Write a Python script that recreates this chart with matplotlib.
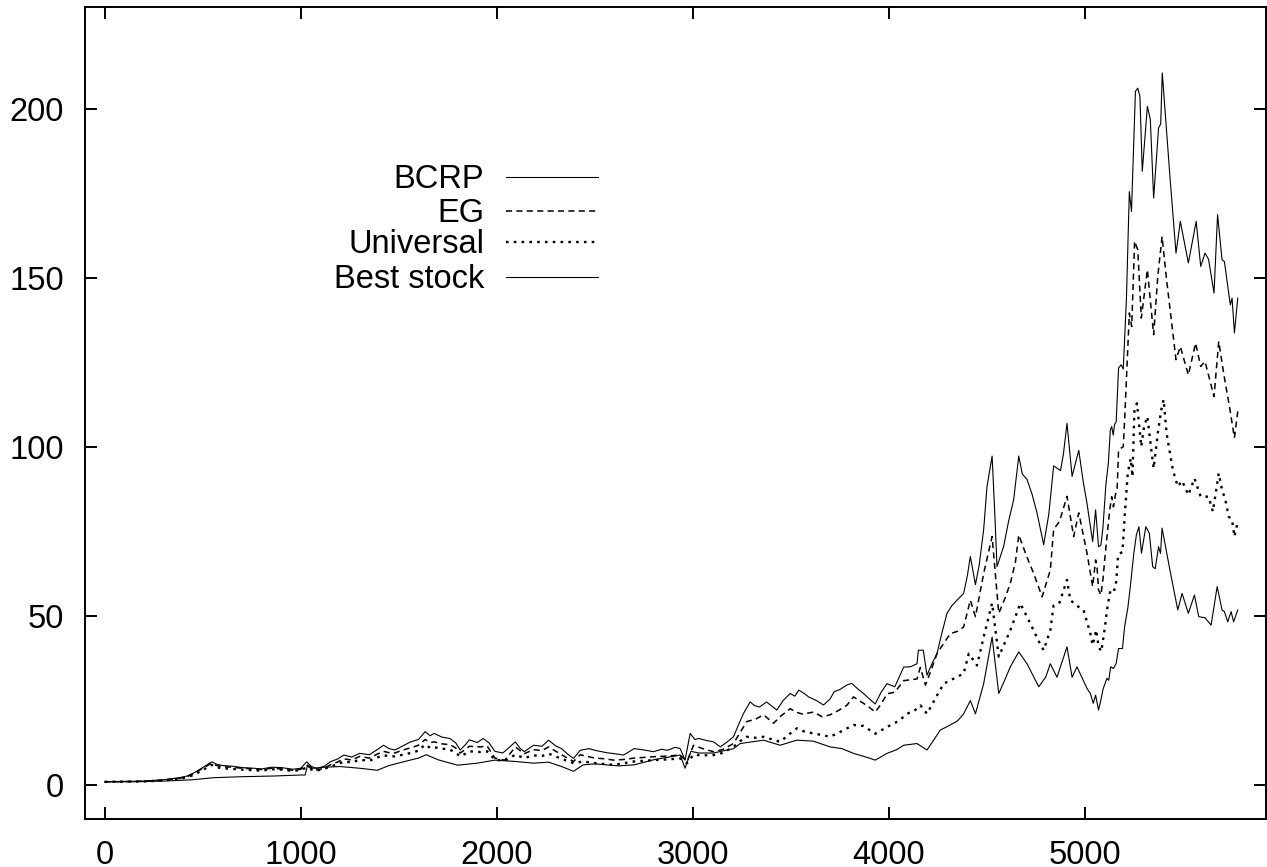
import matplotlib
matplotlib.use('Agg')
import matplotlib.pyplot as plt
from matplotlib.lines import Line2D

plt.rcParams['font.family'] = ['Liberation Sans', 'DejaVu Sans']

# wealth curves, (day, value)
bcrp_x = [0, 100, 200, 300, 380, 420, 460, 500, 546, 570, 600, 650, 700, 760, 800, 850, 900, 960, 1000, 1030,
          1055, 1080, 1120, 1150, 1190, 1219, 1260, 1300, 1350, 1390, 1422, 1450, 1480, 1520, 1560, 1600, 1634,
          1660, 1680, 1720, 1760, 1790, 1813, 1840, 1860, 1900, 1930, 1960, 1990, 2030, 2060, 2094, 2120, 2140,
          2187, 2230, 2264, 2300, 2330, 2360, 2391, 2425, 2470, 2500, 2560, 2600, 2646, 2700, 2750, 2799, 2840,
          2870, 2910, 2935, 2960, 2986, 3010, 3030, 3070, 3105, 3140, 3175, 3207, 3230, 3258, 3292, 3315, 3340,
          3375, 3400, 3428, 3460, 3496, 3520, 3540, 3570, 3590, 3630, 3666, 3700, 3720, 3750, 3785, 3810, 3840,
          3870, 3900, 3930, 3960, 3990, 4030, 4075, 4110, 4143, 4150, 4175, 4194, 4220, 4245, 4270, 4296, 4320,
          4347, 4381, 4400, 4415, 4441, 4460, 4483, 4500, 4526, 4540, 4551, 4585, 4610, 4636, 4662, 4680, 4704,
          4730, 4755, 4789, 4815, 4840, 4875, 4890, 4908, 4934, 4968, 4990, 5010, 5039, 5054, 5069, 5081,
          5091, 5107, 5119, 5129, 5136, 5144, 5150, 5159, 5164, 5171, 5184, 5195, 5211, 5226, 5237, 5257, 5269,
          5280, 5292, 5318, 5333, 5350, 5375, 5386, 5394, 5433, 5464, 5486, 5527, 5567, 5590, 5612, 5630, 5658,
          5676, 5699, 5711, 5741, 5750, 5762, 5779]
bcrp_y = [1.0, 1.1, 1.2, 1.6, 2.2, 2.7, 3.8, 5.2, 6.9, 6.2, 5.8, 5.6, 5.2, 5.0, 4.8, 5.3, 5.2, 4.7, 5.0, 6.9,
          5.5, 4.9, 5.6, 6.9, 7.8, 8.9, 8.3, 9.4, 9.0, 10.5, 11.8, 10.8, 10.4, 11.6, 12.8, 13.5, 15.8,
          14.6, 15.3, 14.2, 13.8, 12.5, 10.4, 12.0, 13.4, 12.6, 13.8, 12.5, 10.0, 9.5, 11.0, 12.8, 10.8, 9.9,
          11.8, 11.5, 13.3, 11.6, 10.8, 9.2, 7.9, 10.3, 10.8, 10.3, 9.6, 9.3, 8.9, 10.8, 10.4, 9.9, 10.6,
          10.3, 11.2, 10.8, 7.4, 15.3, 13.5, 13.8, 13.2, 12.8, 11.3, 12.8, 14.3, 17.5, 21.2, 24.6, 23.5, 23.1,
          24.6, 23.5, 22.2, 25.0, 27.1, 26.3, 28.1, 27.0, 26.1, 25.0, 23.7, 25.5, 27.6, 28.3, 29.6, 30.1, 28.5,
          27.1, 25.5, 24.0, 27.5, 30.0, 29.1, 34.9, 35.0, 35.9, 39.9, 39.9, 32.5, 36.0, 38.9, 45.0, 50.8, 53.0,
          54.7, 56.7, 62.0, 67.6, 59.3, 65.0, 75.6, 88.3, 97.3, 80.0, 64.6, 70.6, 78.0, 84.4, 97.3, 92.0, 90.4,
          86.0, 80.5, 71.1, 80.0, 94.4, 93.0, 98.0, 107.0, 91.3, 99.0, 90.0, 83.3, 72.0, 81.4, 70.5, 71.0,
          75.9, 89.3, 95.2, 105.0, 106.0, 103.5, 106.5, 107.5, 113.9, 123.3, 124.3, 123.0, 143.5, 175.5, 169.6, 205.1, 206.1,
          203.7, 181.5, 200.7, 196.8, 173.6, 194.3, 195.5, 210.6, 180.0, 157.3, 166.7, 154.4, 166.7, 153.4, 157.3, 155.5, 145.5,
          168.7, 155.3, 154.8, 142.0, 144.0, 133.7, 144.0]

eg_x = [0, 100, 200, 300, 380, 420, 460, 500, 546, 570, 600, 650, 700, 760, 800, 850, 900, 960, 1000, 1030,
        1055, 1080, 1120, 1150, 1190, 1219, 1260, 1300, 1350, 1390, 1422, 1450, 1480, 1520, 1560, 1600, 1634,
        1660, 1680, 1720, 1760, 1790, 1813, 1840, 1860, 1915, 1950, 1990, 2040, 2070, 2094, 2140, 2187, 2230,
        2264, 2330, 2360, 2391, 2425, 2460, 2500, 2550, 2595, 2650, 2700, 2750, 2799, 2870, 2935, 2970, 3003,
        3050, 3105, 3150, 3207, 3240, 3275, 3320, 3360, 3411, 3450, 3496, 3530, 3560, 3615, 3660, 3700, 3740,
        3785, 3819, 3870, 3900, 3930, 3960, 3990, 4030, 4075, 4143, 4160, 4186, 4215, 4245, 4280, 4313, 4350,
        4381, 4415, 4441, 4483, 4526, 4560, 4590, 4619, 4645, 4662, 4700, 4738, 4781, 4823, 4840, 4870, 4908,
        4942, 4968, 5010, 5039, 5054, 5061, 5069, 5081, 5091, 5102, 5112, 5126, 5136, 5145, 5155, 5164, 5171,
        5195, 5202, 5226, 5238, 5253, 5269, 5287, 5318, 5350, 5371, 5393, 5416, 5464, 5486, 5527, 5564, 5590,
        5612, 5658, 5682, 5707, 5738, 5762, 5779]
eg_y = [1.0, 1.05, 1.15, 1.5, 2.0, 2.5, 3.6, 5.0, 6.5, 5.8, 5.5, 5.3, 5.0, 4.8, 4.6, 5.0, 4.8, 4.4, 4.7, 5.8,
        4.9, 4.5, 5.0, 6.0, 6.9, 7.8, 7.4, 8.5, 8.0, 9.2, 10.0, 9.6, 9.5, 10.4, 11.0, 11.8, 13.5,
        12.6, 12.8, 12.2, 12.0, 11.0, 9.5, 10.6, 11.5, 11.3, 11.6, 8.0, 7.4, 9.5, 11.3, 9.3, 10.5, 10.2,
        11.3, 9.0, 8.0, 7.0, 9.0, 8.5, 8.0, 7.8, 7.4, 7.6, 8.0, 8.2, 8.4, 8.6, 8.9, 7.0, 11.8,
        10.8, 9.9, 10.5, 12.3, 15.5, 18.8, 19.5, 20.8, 18.3, 20.5, 22.6, 21.5, 21.0, 21.6, 20.2, 20.8, 22.0,
        23.6, 26.1, 24.2, 23.0, 21.6, 24.0, 27.0, 27.5, 30.9, 31.4, 34.8, 29.6, 34.0, 38.9, 42.0, 44.8, 45.5,
        46.8, 54.7, 49.8, 62.6, 73.5, 50.8, 55.0, 59.7, 66.0, 74.0, 68.0, 62.6, 55.7, 63.6, 75.6, 78.0, 85.4,
        73.5, 80.5, 68.6, 58.7, 66.6, 64.6, 57.7, 56.2, 60.7, 67.6, 73.5, 81.4, 85.3, 82.3, 85.8, 87.8, 99.1,
        100.1, 108.0, 139.6, 135.6, 160.8, 158.3, 138.1, 152.4, 133.2, 150.4, 162.2, 149.4, 125.8, 129.7, 121.3, 130.7, 123.8,
        125.3, 114.9, 131.2, 121.8, 111.5, 102.7, 110.5]

univ_x = [0, 100, 200, 300, 380, 420, 460, 500, 546, 570, 600, 650, 700, 760, 800, 850, 900, 960, 1000, 1030,
          1055, 1080, 1120, 1150, 1190, 1219, 1260, 1300, 1350, 1390, 1422, 1450, 1480, 1520, 1560, 1600, 1634,
          1660, 1680, 1720, 1760, 1790, 1813, 1840, 1860, 1915, 1950, 1990, 2040, 2094, 2140, 2187, 2230, 2264,
          2330, 2391, 2440, 2500, 2595, 2650, 2700, 2799, 2870, 2935, 2970, 3003, 3050, 3105, 3150, 3207, 3240,
          3275, 3320, 3360, 3400, 3445, 3490, 3530, 3570, 3615, 3660, 3700, 3760, 3819, 3870, 3930, 3960, 4000,
          4050, 4092, 4130, 4160, 4194, 4240, 4279, 4330, 4381, 4407, 4449, 4483, 4526, 4560, 4590, 4619, 4670,
          4721, 4760, 4789, 4823, 4840, 4870, 4908, 4925, 4960, 4993, 5027, 5039, 5057, 5069, 5083, 5093, 5102,
          5112, 5126, 5136, 5150, 5159, 5169, 5191, 5202, 5218, 5233, 5242, 5252, 5265, 5287, 5301, 5318, 5336,
          5350, 5371, 5389, 5401, 5416, 5448, 5473, 5495, 5527, 5558, 5590, 5630, 5652, 5682, 5699, 5716, 5733,
          5750, 5762, 5779]
univ_y = [1.0, 1.05, 1.1, 1.4, 1.9, 2.3, 3.2, 4.5, 6.0, 5.3, 5.0, 4.8, 4.6, 4.4, 4.3, 4.7, 4.6, 4.2, 4.5, 5.2,
          4.6, 4.3, 4.8, 5.5, 6.2, 7.0, 6.7, 7.5, 7.2, 8.2, 8.8, 8.6, 8.5, 9.0, 9.5, 10.2, 12.0,
          11.0, 11.2, 10.8, 10.5, 9.6, 8.5, 9.3, 10.0, 9.8, 10.0, 7.5, 7.2, 9.0, 8.0, 8.8, 8.6, 9.3,
          7.8, 6.5, 7.0, 6.5, 6.0, 6.5, 7.0, 7.4, 7.6, 7.9, 6.5, 9.0, 8.8, 8.9, 9.5, 11.3, 13.0,
          14.3, 14.0, 14.3, 13.6, 12.8, 15.0, 16.8, 15.8, 15.3, 14.8, 14.3, 16.0, 17.8, 17.5, 15.2, 16.2, 17.5,
          19.0, 21.1, 22.0, 23.6, 21.1, 26.0, 30.0, 31.5, 33.0, 38.9, 35.4, 43.8, 53.8, 38.0, 42.0, 45.8, 53.7,
          47.8, 43.0, 39.9, 45.8, 53.2, 54.0, 60.7, 54.7, 53.0, 51.7, 44.9, 41.4, 45.9, 41.0, 39.5, 43.4, 46.9,
          51.8, 56.7, 58.2, 57.7, 60.2, 68.1, 69.0, 79.4, 92.2, 96.6, 91.2, 111.0, 112.9, 100.1, 106.0, 109.0, 100.1,
          93.7, 104.0, 111.0, 114.0, 104.0, 93.2, 88.3, 90.0, 85.8, 90.7, 85.3, 85.3, 80.9, 92.2, 87.3, 84.3, 79.4,
          78.4, 73.5, 77.9]

best_x = [0, 150, 300, 450, 554, 700, 860, 1000, 1022, 1035, 1060, 1120, 1200, 1300, 1390, 1450, 1530, 1600,
          1640, 1700, 1800, 1900, 1990, 2094, 2187, 2264, 2330, 2391, 2440, 2500, 2620, 2700, 2799, 2935, 2960,
          2990, 3030, 3105, 3207, 3241, 3300, 3360, 3445, 3530, 3615, 3700, 3760, 3819, 3900, 3930, 3990, 4040,
          4075, 4143, 4194, 4230, 4262, 4313, 4350, 4381, 4415, 4441, 4483, 4526, 4560, 4590, 4619, 4662, 4704,
          4764, 4800, 4823, 4857, 4908, 4934, 4959, 5010, 5027, 5042, 5054, 5069, 5079, 5093, 5112, 5121, 5131,
          5145, 5159, 5171, 5191, 5202, 5218, 5231, 5249, 5262, 5275, 5288, 5310, 5328, 5345, 5358, 5375, 5385,
          5393, 5433, 5473, 5495, 5527, 5558, 5580, 5612, 5643, 5674, 5699, 5711, 5728, 5745, 5758, 5779]
best_y = [1.0, 1.0, 1.2, 1.6, 2.2, 2.5, 2.7, 3.0, 3.0, 6.0, 5.0, 5.3, 5.5, 5.0, 4.4, 5.8, 7.0, 8.0,
          9.0, 7.5, 5.9, 6.5, 7.4, 7.0, 6.5, 6.8, 5.5, 4.1, 6.0, 6.3, 5.7, 6.0, 7.5, 8.9, 5.0,
          10.0, 9.5, 9.5, 10.8, 12.3, 12.8, 13.3, 11.8, 13.3, 13.0, 11.3, 10.8, 9.4, 8.0, 7.4, 9.4, 10.5,
          11.8, 12.3, 10.4, 13.5, 16.3, 17.8, 19.0, 21.1, 25.0, 21.1, 30.0, 43.8, 27.1, 31.0, 35.0, 39.4, 35.9,
          29.1, 32.0, 35.9, 31.9, 40.9, 31.9, 35.0, 28.6, 27.1, 24.2, 26.6, 22.2, 24.7, 28.6, 31.6, 31.0, 35.0,
          34.5, 36.0, 40.4, 40.4, 46.9, 52.3, 58.7, 68.6, 74.0, 76.4, 68.6, 76.4, 74.5, 64.6, 64.0, 70.5, 68.5,
          76.0, 63.6, 51.8, 56.7, 50.8, 56.2, 49.8, 49.5, 47.3, 58.7, 51.8, 51.3, 48.3, 51.3, 48.3, 51.8]

labels = ['BCRP', 'EG', 'Universal', 'Best stock']

fig = plt.figure(figsize=(12.67, 8.67), dpi=100)
ax = fig.add_axes([0.0669, 0.0554, 0.9323, 0.9362])

styles = [
    dict(color='black', lw=0.8, linestyle='-'),
    dict(color='black', lw=1.1, linestyle=(0, (4.0, 2.8))),
    dict(color='black', lw=1.7, linestyle=(0, (1.1, 2.2))),
    dict(color='black', lw=0.8, linestyle='-'),
]

series = [(bcrp_x, bcrp_y), (eg_x, eg_y), (univ_x, univ_y), (best_x, best_y)]
for (xs, ys), st in zip(series, styles):
    ax.plot(xs, ys, **st)

ax.set_xlim(-102, 5923)
ax.set_ylim(-10, 230)
ax.set_xticks(range(0, 6000, 1000))
ax.set_yticks(range(0, 250, 50))

for s in ax.spines.values():
    s.set_linewidth(1.4)
ax.tick_params(direction='in', length=8.6, width=1.4, labelsize=23.5,
               top=True, right=True)
ax.tick_params(axis='x', pad=14.8)
ax.tick_params(axis='y', pad=15)

# gnuplot-style key: right-aligned labels, samples to the right
key_rows = [0.7914, 0.7495, 0.7110, 0.6682]
for lab, st, yr in zip(labels, styles, key_rows):
    ax.add_line(Line2D([0.3564, 0.4348], [yr, yr], transform=ax.transAxes, **st))
    ax.text(0.338, yr - 0.0143, lab, transform=ax.transAxes, ha='right', va='baseline',
            fontsize=23.5)

fig.savefig('out.png', dpi=100)
